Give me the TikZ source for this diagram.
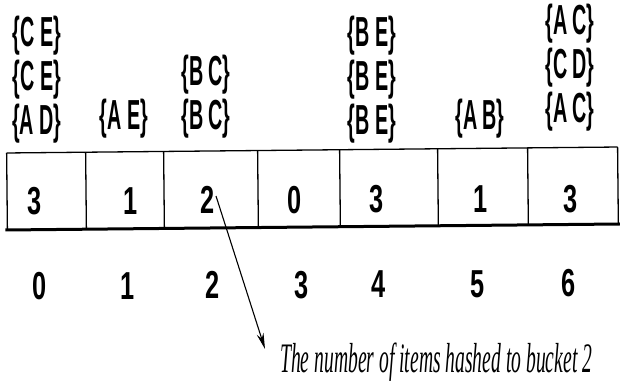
\documentclass[tikz,border=0pt]{standalone}
\usepackage{fontspec}
\setmainfont{Liberation Sans}
\newfontfamily\capfont{Liberation Serif}
\usetikzlibrary{arrows.meta}
\newcommand\nl[1]{\scalebox{0.47}[1]{#1}}
\newcommand\nd[1]{\scalebox{0.65}[1]{#1}}
\tikzset{
  lab/.style={font=\bfseries\fontsize{42}{44}\selectfont, align=center, inner sep=0pt},
  num/.style={font=\bfseries\fontsize{39}{40}\selectfont, inner sep=0pt},
  thin rule/.style={line width=1.3pt},
  thick rule/.style={line width=3pt},
  pointer/.style={line width=1.1pt, -{Stealth[length=16pt,width=7pt]}},
}
\begin{document}
\begin{tikzpicture}[x=1pt,y=-1pt]
\useasboundingbox (0,0) rectangle (620,380);
% table
\begin{scope}[rotate around={0.56:(312,190)}]
  \draw[thin rule] (7,150) -- (618,150);
  \draw[thick rule] (5,227) -- (620,227);
  \foreach \x in {7,86,164,258,340,438,528,618}
    \draw[thin rule] (\x,150) -- (\x,227);
\end{scope}
% contents of buckets
\node[lab] (l0) at (37,80) {\nl{\{C E\}}\\\nl{\{C E\}}\\\nl{\{A D\}}};
\node[lab] (l1) at (124,119) {\nl{\{A E\}}};
\node[lab] (l2) at (206,97) {\nl{\{B C\}}\\\nl{\{B C\}}};
\node[lab] (l4) at (372,80) {\nl{\{B E\}}\\\nl{\{B E\}}\\\nl{\{B E\}}};
\node[lab] (l5) at (480,119) {\nl{\{A B\}}};
\node[lab] (l6) at (570,68) {\nl{\{A C\}}\\\nl{\{C D\}}\\\nl{\{A C\}}};
% counts
\node[num] (v0) at (35,201) {\nd{3}};
\node[num] (v1) at (131,201) {\nd{1}};
\node[num] (v2) at (208,200) {\nd{2}};
\node[num] (v3) at (295,200) {\nd{0}};
\node[num] (v4) at (377,199) {\nd{3}};
\node[num] (v5) at (481,199) {\nd{1}};
\node[num] (v6) at (571,199) {\nd{3}};
% indices
\node[num] (i0) at (40,286) {\nd{0}};
\node[num] (i1) at (128,286) {\nd{1}};
\node[num] (i2) at (213,285) {\nd{2}};
\node[num] (i3) at (302,285) {\nd{3}};
\node[num] (i4) at (379,284) {\nd{4}};
\node[num] (i5) at (478,284) {\nd{5}};
\node[num] (i6) at (569,283) {\nd{6}};
% caption and pointer
\node[inner sep=0pt, anchor=base west, font=\capfont\itshape\fontsize{42}{44}\selectfont] (cap) at (280,372)
  {\resizebox{312pt}{\height}{The number of items hashed to bucket 2}};
\coordinate (a0) at (216,196);
\coordinate (a1) at (265,349);
\draw[pointer] (a0) -- (a1);
\end{tikzpicture}
\end{document}
